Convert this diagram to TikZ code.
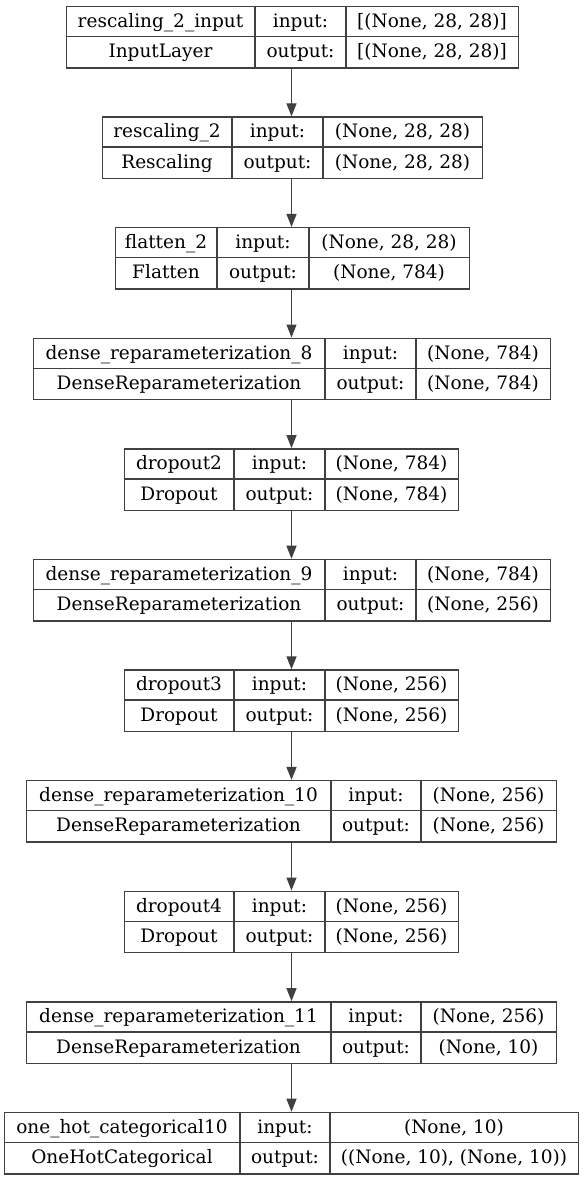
\documentclass[tikz,border=0pt]{standalone}
\usepackage{fontspec}
\setmainfont{DejaVu Serif}
\usetikzlibrary{arrows.meta}
\tikzset{
  line/.style={draw=black!75, line width=1.4pt},
  box/.style={line, rectangle, inner sep=0pt, anchor=north west},
  txt/.style={font=\fontsize{18.5}{21}\selectfont, inner sep=0pt, anchor=base},
  arr/.style={line, -{Triangle[length=13pt,width=10pt]}},
}
\newcommand\lbox[6]{%
  \def\Ltop{#2}\def\La{#3}\def\Lb{#4}\def\Lc{#5}\def\Ld{#6}%
  \node[box, minimum width={#6-#3}, minimum height=61.5] (#1) at (#3,-#2) {};
  \draw[line] (#4,-#2) -- (#4,{-#2-61.5});
  \draw[line] (#5,-#2) -- (#5,{-#2-61.5});
  \draw[line] (#3,{-#2-30.75}) -- (#6,{-#2-30.75});
}
\newcommand\ltext[5]{%
  \node[txt] (#1-n) at ({(\La+\Lb)/2},{-\Ltop-21.5}) {#2};
  \node[txt] (#1-c) at ({(\La+\Lb)/2},{-\Ltop-52}) {#3};
  \node[txt] (#1-i) at ({(\Lb+\Lc)/2},{-\Ltop-21.5}) {input:};
  \node[txt] (#1-o) at ({(\Lb+\Lc)/2},{-\Ltop-52}) {output:};
  \node[txt] (#1-x) at ({(\Lc+\Ld)/2},{-\Ltop-21.5}) {#4};
  \node[txt] (#1-y) at ({(\Lc+\Ld)/2},{-\Ltop-52}) {#5};
}
\begin{document}
\begin{tikzpicture}[x=1pt,y=1pt]
\useasboundingbox[fill=white] (0,0) rectangle (584,-1180);
\lbox{b1}{5.7}{66}{255}{346}{518}
\ltext{b1}{rescaling\_2\_input}{InputLayer}{[(None, 28, 28)]}{[(None, 28, 28)]}
\lbox{b2}{116.3}{102}{232}{323}{482}
\ltext{b2}{rescaling\_2}{Rescaling}{(None, 28, 28)}{(None, 28, 28)}
\lbox{b3}{226.9}{115}{217}{309}{469}
\ltext{b3}{flatten\_2}{Flatten}{(None, 28, 28)}{(None, 784)}
\lbox{b4}{337.5}{33}{325}{416}{550}
\ltext{b4}{dense\_reparameterization\_8}{DenseReparameterization}{(None, 784)}{(None, 784)}
\lbox{b5}{448.1}{124}{234}{325}{458}
\ltext{b5}{dropout2}{Dropout}{(None, 784)}{(None, 784)}
\lbox{b6}{558.7}{33}{325}{416}{550}
\ltext{b6}{dense\_reparameterization\_9}{DenseReparameterization}{(None, 784)}{(None, 256)}
\lbox{b7}{669.3}{124}{234}{325}{458}
\ltext{b7}{dropout3}{Dropout}{(None, 256)}{(None, 256)}
\lbox{b8}{779.9}{26}{331}{421}{556}
\ltext{b8}{dense\_reparameterization\_10}{DenseReparameterization}{(None, 256)}{(None, 256)}
\lbox{b9}{890.5}{124}{234}{325}{458}
\ltext{b9}{dropout4}{Dropout}{(None, 256)}{(None, 256)}
\lbox{b10}{1001.1}{26}{331}{421}{556}
\ltext{b10}{dense\_reparameterization\_11}{DenseReparameterization}{(None, 256)}{(None, 10)}
\lbox{b11}{1111.7}{4}{240}{330}{578}
\ltext{b11}{one\_hot\_categorical10}{OneHotCategorical}{(None, 10)}{((None, 10), (None, 10))}
\foreach \a/\b in {b1/b2,b2/b3,b3/b4,b4/b5,b5/b6,b6/b7,b7/b8,b8/b9,b9/b10,b10/b11}{
  \draw[arr] (291.5,0 |- \a.south) -- (291.5,0 |- \b.north);
}
\end{tikzpicture}
\end{document}
